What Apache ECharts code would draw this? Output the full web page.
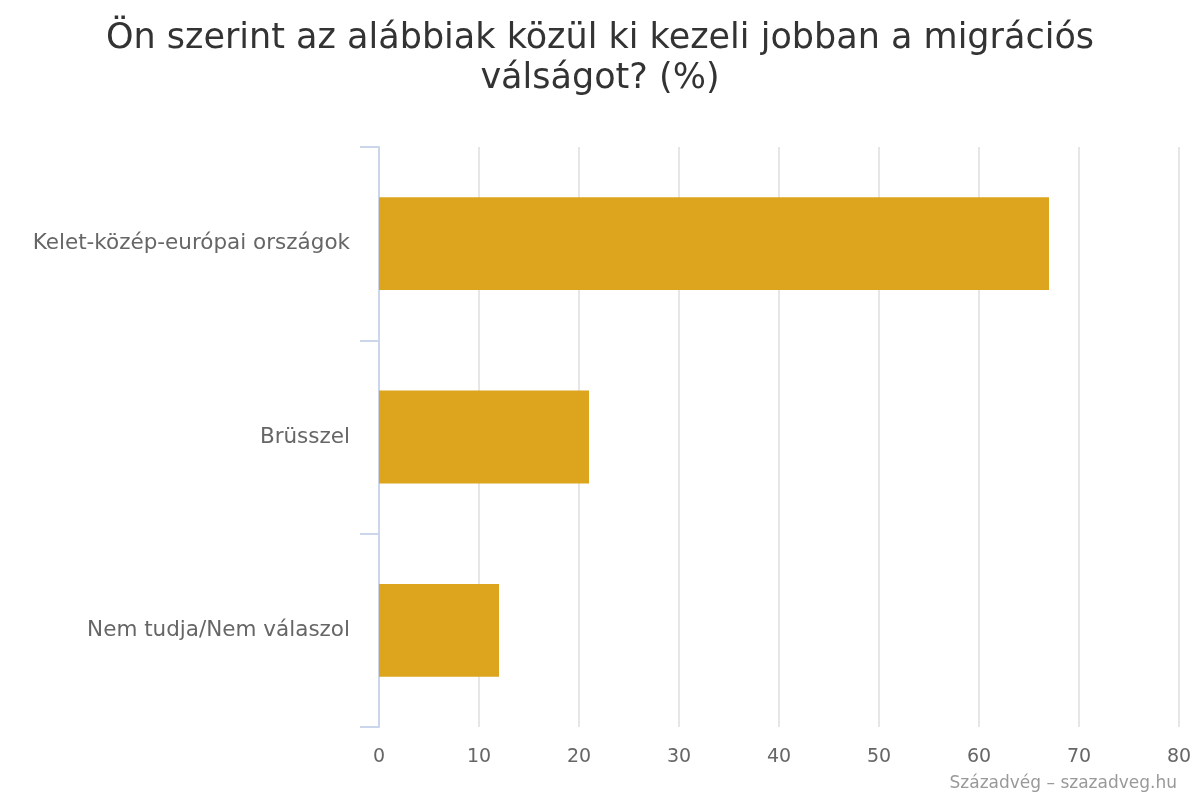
<!DOCTYPE html>
<html>
<head>
<meta charset="utf-8">
<script src="https://cdn.jsdelivr.net/npm/echarts@6/dist/echarts.min.js"></script>
<style>
html,body{margin:0;padding:0;background:#fff;}
#chart{width:1200px;height:800px;}
</style>
</head>
<body>
<div id="chart"></div>
<script>
const categories = ['Kelet-közép-európai országok', 'Brüsszel', 'Nem tudja/Nem válaszol'];
const values = [67, 21, 12];
const xTicks = [0, 10, 20, 30, 40, 50, 60, 70, 80];

const chart = echarts.init(document.getElementById('chart'));
chart.setOption({
  backgroundColor: '#ffffff',
  textStyle: { fontFamily: 'DejaVu Sans' },
  title: [{
    text: 'Ön szerint az alábbiak közül ki kezeli jobban a migrációs\nválságot? (%)',
    left: 'center',
    top: 14,
    textStyle: { fontFamily: 'DejaVu Sans', fontSize: 35, fontWeight: 'normal', color: '#333333', lineHeight: 40 }
  }, {
    text: 'Századvég – szazadveg.hu',
    right: 18,
    bottom: 3,
    textStyle: { fontFamily: 'DejaVu Sans', fontSize: 17, fontWeight: 'normal', color: '#999999' }
  }],
  grid: { left: 379, right: 21, top: 147, bottom: 73, containLabel: false },
  xAxis: {
    type: 'value',
    min: xTicks[0],
    max: xTicks[xTicks.length - 1],
    interval: 10,
    axisLine: { show: false },
    axisTick: { show: false },
    axisLabel: { color: '#666666', fontSize: 19, margin: 21, fontFamily: 'DejaVu Sans' },
    splitLine: { show: true, lineStyle: { color: '#e6e6e6', width: 2 } }
  },
  yAxis: {
    type: 'category',
    data: categories,
    inverse: true,
    axisLine: { show: true, lineStyle: { color: '#ccd6eb', width: 2 } },
    axisTick: { show: true, length: 19, lineStyle: { color: '#ccd6eb', width: 2 } },
    axisLabel: { color: '#666666', fontSize: 21.5, margin: 29, fontFamily: 'DejaVu Sans' },
    splitLine: { show: false }
  },
  series: [{
    type: 'bar',
    data: values,
    barCategoryGap: '52%',
    itemStyle: { color: '#DDA41D' },
    silent: true
  }],
  animation: false
});
</script>
</body>
</html>
